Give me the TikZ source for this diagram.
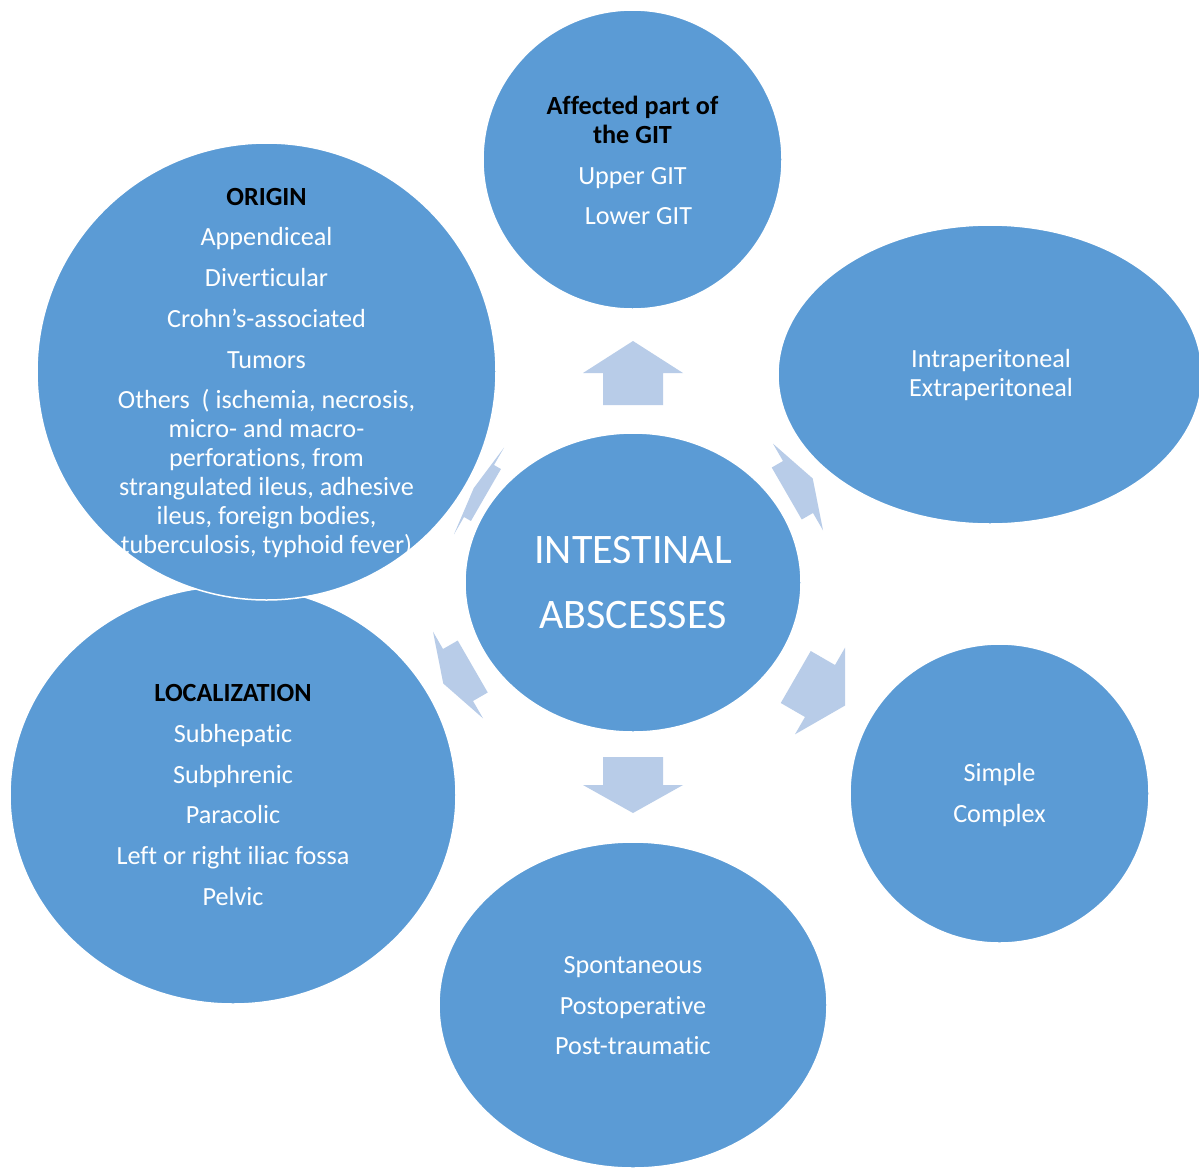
\documentclass[tikz,border=0pt]{standalone}
\usepackage{fontspec}
\setmainfont{Carlito}[Ligatures={TeX,NoCommon}]
\usetikzlibrary{shapes.geometric}
\definecolor{circblue}{RGB}{91,155,213}
\definecolor{arrblue}{RGB}{184,204,232}
\newcommand\hdtxt[1]{\textcolor{black}{\bfseries #1}}
\newcommand\radarrow[5]{%
  \fill[arrowshape, shift={(#1,#2)}, rotate=#3]
    (-#4,-30) -- (0,-30) -- (0,-50) -- (#5,0) -- (0,50) -- (0,30) -- (-#4,30) -- cycle;}
\tikzset{
  bubble/.style={ellipse, fill=circblue, draw=white, line width=1.5pt, inner sep=0pt, outer sep=0pt},
  bodytext/.style={text=white, align=center, inner sep=0pt, font=\fontsize{26.2}{29}\selectfont},
  titletext/.style={text=white, align=center, inner sep=0pt, font=\fontsize{42}{65}\selectfont},
  arrowshape/.style={fill=arrblue, draw=none},
}
\begin{document}
\begin{tikzpicture}[x=1pt, y=-1pt]
\useasboundingbox (0,0) rectangle (1199,1168);
\fill[white] (0,0) rectangle (1199,1168);

% block arrows (drawn below the circles)
\radarrow{633}{373}{90}{32}{32}
\radarrow{633}{785}{-90}{28}{28}
\radarrow{820}{691}{-30}{28}{29}
\radarrow{798}{487}{30}{13}{17}
\radarrow{458}{675}{-150}{17}{17}
\radarrow{479}{491}{150}{8}{6}

% circles
\node[bubble, minimum width=336pt, minimum height=299pt] (center) at (633,582.5) {};
\node[bubble, minimum width=299pt, minimum height=299pt] (git) at (632.5,159.5) {};
\node[bubble, minimum width=424pt, minimum height=299pt] (peri) at (990,374.5) {};
\node[bubble, minimum width=299pt, minimum height=299pt] (simple) at (999.5,793.5) {};
\node[bubble, minimum width=388pt, minimum height=326pt] (onset) at (633,1005) {};
\node[bubble, minimum width=446pt, minimum height=418pt] (loc) at (233,795) {};
\node[bubble, minimum width=459pt, minimum height=457pt] (origin) at (266.5,371.5) {};

% texts
\node[titletext] (titleT) at (center.center) {INTESTINAL\\ABSCESSES};

\node[bodytext] (gitT) at ([yshift=-1pt]git.center) {\hdtxt{Affected part of}\\\hdtxt{the GIT}\\[11.7pt]Upper GIT\\[11.7pt]\hspace*{12pt}Lower GIT};

\node[bodytext] (periT) at ([xshift=1pt,yshift=-1pt]peri.center) {Intraperitoneal\\Extraperitoneal};

\node[bodytext] (simpleT) at ([yshift=-1.5pt]simple.center) {Simple\\[11.7pt]Complex};

\node[bodytext] (onsetT) at ([yshift=-1pt]onset.center) {Spontaneous\\[11.5pt]Postoperative\\[11.5pt]Post-traumatic};

\node[bodytext] (locT) at (loc.center) {\hdtxt{LOCALIZATION}\\[11.8pt]Subhepatic\\[11.8pt]Subphrenic\\[11.8pt]Paracolic\\[11.8pt]Left or right iliac fossa\\[11.8pt]Pelvic};

\node[bodytext] (originT) at ([yshift=-1.5pt]origin.center) {\hdtxt{ORIGIN}\\[11.7pt]Appendiceal\\[11.7pt]Diverticular\\[11.7pt]Crohn's-associated\\[11.7pt]Tumors\\[11.7pt]Others\ \ ( ischemia, necrosis,\\micro- and macro-\\perforations, from\\strangulated ileus, adhesive\\ileus, foreign bodies,\\tuberculosis, typhoid fever)};
\end{tikzpicture}
\end{document}
